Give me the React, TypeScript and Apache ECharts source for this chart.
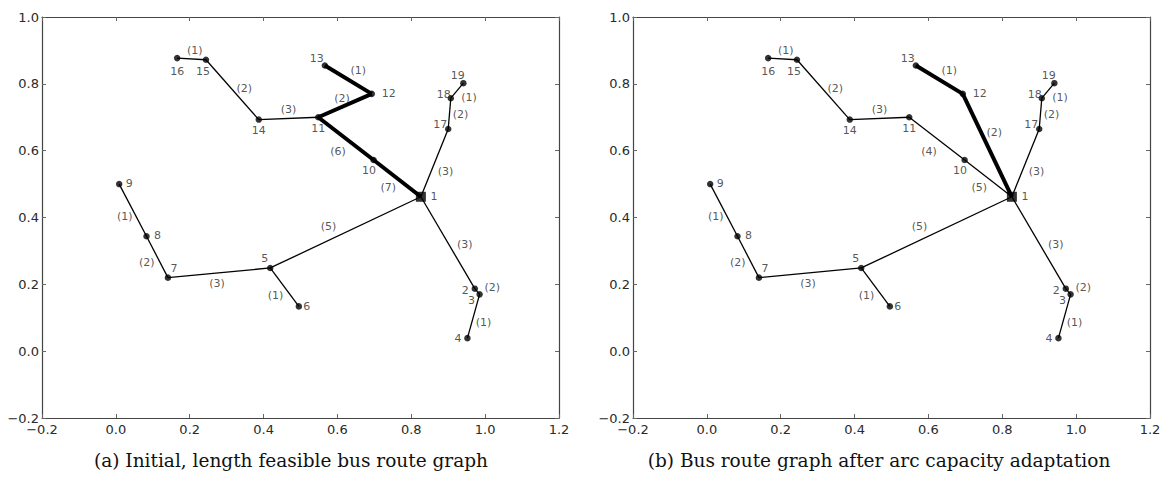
import React, { useEffect, useRef } from "react";
import * as echarts from "echarts";

// ---- Data ----
const nodeIds = [1, 2, 3, 4, 5, 6, 7, 8, 9, 10, 11, 12, 13, 14, 15, 16, 17, 18, 19];
const nodeX = [0.826, 0.972, 0.985, 0.952, 0.418, 0.4955, 0.141, 0.083, 0.009, 0.698, 0.548, 0.693, 0.566, 0.387, 0.244, 0.166, 0.9, 0.907, 0.941];
const nodeY = [0.462, 0.187, 0.17, 0.039, 0.249, 0.134, 0.22, 0.344, 0.5, 0.572, 0.7, 0.77, 0.855, 0.693, 0.872, 0.877, 0.665, 0.757, 0.802];

// [from, to, capacity, highlighted]
const edgesA: [number, number, number, boolean][] = [
  [1, 2, 3, false], [2, 3, 2, false], [3, 4, 1, false], [1, 5, 5, false], [5, 6, 1, false],
  [5, 7, 3, false], [7, 8, 2, false], [8, 9, 1, false], [1, 10, 7, true], [10, 11, 6, true],
  [11, 12, 2, true], [12, 13, 1, true], [11, 14, 3, false], [14, 15, 2, false], [15, 16, 1, false],
  [1, 17, 3, false], [17, 18, 2, false], [18, 19, 1, false],
];
const edgesB: [number, number, number, boolean][] = [
  [1, 2, 3, false], [2, 3, 2, false], [3, 4, 1, false], [1, 5, 5, false], [5, 6, 1, false],
  [5, 7, 3, false], [7, 8, 2, false], [8, 9, 1, false], [1, 10, 5, false], [10, 11, 4, false],
  [1, 12, 2, true], [12, 13, 1, true], [11, 14, 3, false], [14, 15, 2, false], [15, 16, 1, false],
  [1, 17, 3, false], [17, 18, 2, false], [18, 19, 1, false],
];

const xMin = -0.2, xMax = 1.2, yMin = -0.2, yMax = 1.0, tickStep = 0.2;
const captions = ["(a) Initial, length feasible bus route graph", "(b) Bus route graph after arc capacity adaptation"];

// ---- Styles (label offsets in px) ----
const nodeLabelOffset: Record<number, [number, number]> = {
  1: [13, 0], 2: [-9.5, 1.7], 3: [-8, 5.7], 4: [-9.5, 0], 5: [-5.5, -9.7], 6: [8, 0],
  7: [6, -9.3], 8: [11, -1], 9: [10, -1], 10: [-4.5, 10], 11: [0, 11.6], 12: [17, 0],
  13: [-8, -7.3], 14: [0, 11], 15: [-3, 11.4], 16: [0, 13], 17: [-8, -4], 18: [-7, -3.4], 19: [-5.5, -7.7],
};
const edgeLabelOffset: Record<string, [number, number]> = {
  "15-16": [3.3, -8], "14-15": [12, -1.5], "11-14": [0, -8.5], "12-13": [10, -9], "11-12": [-3, -7],
  "10-11": [-8, 12.7], "1-10": [-9, 9], "1-17": [11, 9], "17-18": [11, 1], "18-19": [12, 7],
  "1-5": [-17, -6], "1-2": [17, 2], "2-3": [15, -4.5], "3-4": [10, 6.5], "5-6": [-9, 8],
  "5-7": [-2, 10.5], "7-8": [-10.5, 5.5], "8-9": [-8, 6], "1-12": [7, -13],
};

const grids = [
  { left: 42, top: 17, width: 517, height: 401 },
  { left: 633, top: 17, width: 517, height: 401 },
];
const captionPos = [[291, 460], [879, 460]];

const FRAME = "#444";
const TEXT = "#2a2a2a";
const SANS = "DejaVu Sans";

function pos(id: number): [number, number] {
  const i = nodeIds.indexOf(id);
  return [nodeX[i], nodeY[i]];
}

function fmt(v: number) {
  if (Math.abs(v) < 1e-9) return "0.0";
  const s = v.toFixed(1);
  return s.startsWith("-") ? "\u2212" + s.slice(1) : s;
}

const smallLabel = (offset: [number, number]) => ({
  show: true,
  position: "inside",
  formatter: "{b}",
  color: TEXT,
  fontSize: 11,
  fontFamily: SANS,
  align: "center",
  verticalAlign: "middle",
  textBorderWidth: 0,
  textBorderColor: "transparent",
  offset,
});

function buildOption() {
  const xAxis: any[] = [];
  const yAxis: any[] = [];
  const series: any[] = [];
  grids.forEach((_, g) => {
    const common = {
      gridIndex: g,
      type: "value",
      interval: tickStep,
      splitLine: { show: false },
      axisLine: { show: true, onZero: false, lineStyle: { color: FRAME, width: 1.2 } },
      axisTick: { show: true, inside: true, length: 4, lineStyle: { color: "#666", width: 1 } },
    };
    xAxis.push({
      ...common, min: xMin, max: xMax, position: "bottom",
      axisLabel: { show: true, margin: 5, color: TEXT, fontSize: 13, fontFamily: SANS, formatter: fmt, showMinLabel: true, showMaxLabel: true },
    });
    xAxis.push({ ...common, min: xMin, max: xMax, position: "top", axisLabel: { show: false } });
    yAxis.push({
      ...common, min: yMin, max: yMax, position: "left",
      axisLabel: { show: true, margin: 3, color: TEXT, fontSize: 13, fontFamily: SANS, formatter: fmt, showMinLabel: true, showMaxLabel: true },
    });
    yAxis.push({ ...common, min: yMin, max: yMax, position: "right", axisLabel: { show: false } });

    const edges = g === 0 ? edgesA : edgesB;
    const xi = g * 2, yi = g * 2;
    edges.forEach(([a, b, , thick]) => {
      series.push({
        type: "line",
        xAxisIndex: xi, yAxisIndex: yi,
        data: [pos(a), pos(b)],
        showSymbol: false,
        silent: true,
        z: thick ? 3 : 2,
        lineStyle: { color: "#000", width: thick ? 4 : 1.3 },
      });
    });
    series.push({
      type: "scatter",
      xAxisIndex: xi, yAxisIndex: yi,
      silent: true,
      z: 4,
      symbolSize: 0,
      itemStyle: { color: TEXT },
      data: edges.map(([a, b, cap]) => {
        const pa = pos(a), pb = pos(b);
        return {
          value: [(pa[0] + pb[0]) / 2, (pa[1] + pb[1]) / 2],
          name: `(${cap})`,
          label: smallLabel(edgeLabelOffset[`${a}-${b}`] || [0, 0]),
        };
      }),
      label: smallLabel([0, 0]),
    });
    series.push({
      type: "scatter",
      xAxisIndex: xi, yAxisIndex: yi,
      silent: true,
      z: 5,
      itemStyle: { color: "#000" },
      data: nodeIds.map((id) => ({
        value: pos(id),
        name: String(id),
        symbol: id === 1 ? "rect" : "circle",
        symbolSize: id === 1 ? 10 : 6.5,
        label: smallLabel(nodeLabelOffset[id]),
      })),
      label: smallLabel([0, 0]),
    });
  });

  return {
    animation: false,
    backgroundColor: "#fff",
    grid: grids,
    xAxis,
    yAxis,
    series,
    graphic: captions.map((c, i) => ({
      type: "text",
      x: captionPos[i][0],
      y: captionPos[i][1],
      style: {
        text: c, fill: "#111", font: "18.5px 'DejaVu Serif'",
        textAlign: "center", textVerticalAlign: "middle",
      },
    })),
  };
}

export default function App() {
  const ref = useRef<HTMLDivElement>(null);
  useEffect(() => {
    const chart = echarts.init(ref.current!, null, { renderer: "svg" });
    chart.setOption(buildOption());
    return () => chart.dispose();
  }, []);
  return (
    <div
      ref={ref}
      style={{ position: "fixed", left: 0, top: 0, width: 1168, height: 482, background: "#fff" }}
    />
  );
}
